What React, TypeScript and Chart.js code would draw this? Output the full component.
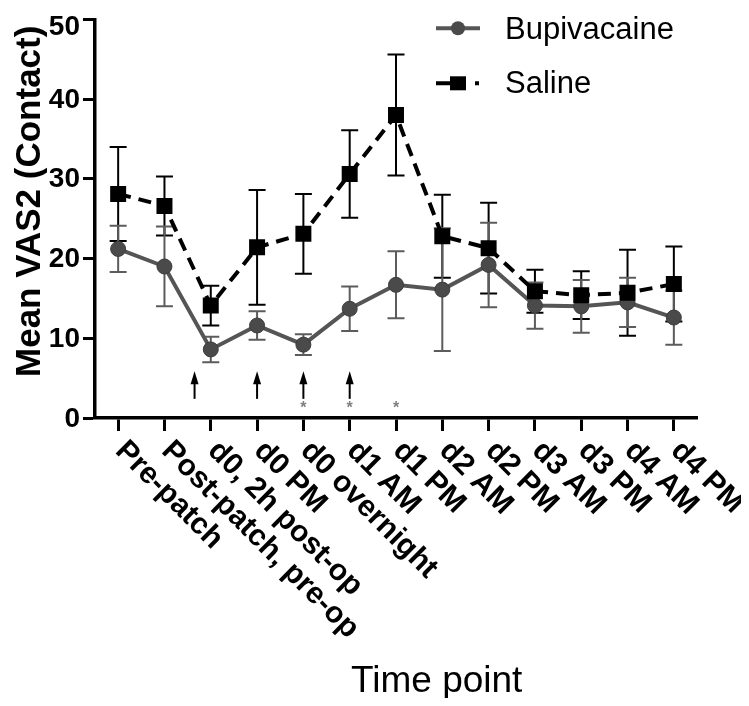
import { useEffect, useRef } from 'react';
import { Chart, registerables } from 'chart.js';

Chart.register(...registerables);

const categories = [
  'Pre-patch',
  'Post-patch, pre-op',
  'd0, 2h post-op',
  'd0 PM',
  'd0 overnight',
  'd1 AM',
  'd1 PM',
  'd2 AM',
  'd2 PM',
  'd3 AM',
  'd3 PM',
  'd4 AM',
  'd4 PM',
];

const bupivacaine = [21.2, 19.0, 8.6, 11.6, 9.2, 13.7, 16.7, 16.1, 19.2, 14.1, 14.0, 14.5, 12.6];
const bupivacaineErr = [2.9, 5.0, 1.6, 1.8, 1.3, 2.8, 4.2, 7.7, 5.3, 2.9, 3.3, 3.1, 3.4];
const saline = [28.1, 26.6, 14.1, 21.4, 23.1, 30.6, 38.0, 22.8, 21.3, 15.9, 15.4, 15.7, 16.8];
const salineErr = [5.9, 3.7, 2.5, 7.2, 5.0, 5.5, 7.6, 5.2, 5.7, 2.7, 3.0, 5.4, 4.7];

const yTicks = [0, 10, 20, 30, 40, 50];
const arrowPositions = [1.65, 3, 4, 5];
const arrowTop = 5.85;
const arrowBottom = 2.4;
const asteriskPositions = [4, 5, 6];
const asteriskLevel = 1.6;

const seriesNames = ['Bupivacaine', 'Saline'];
const yTitle = 'Mean VAS2 (Contact)';
const xTitle = 'Time point';

const FONT = "'Liberation Sans', Arial, Helvetica, sans-serif";
const BUPI_COLOR = '#555555';
const BUPI_POINT = '#4a4a4a';
const BUPI_ERR = '#5c5c5c';

const overlayPlugin = {
  id: 'overlay',
  beforeDatasetsDraw(chart: any) {
    const { ctx, scales } = chart;
    const x = scales.x;
    const y = scales.y;
    const drawBars = (vals: number[], errs: number[], color: string) => {
      ctx.save();
      ctx.strokeStyle = color;
      ctx.lineWidth = 2;
      vals.forEach((v, i) => {
        const px = x.getPixelForValue(i);
        const t = y.getPixelForValue(v + errs[i]);
        const b = y.getPixelForValue(v - errs[i]);
        ctx.beginPath();
        ctx.moveTo(px, t);
        ctx.lineTo(px, b);
        ctx.moveTo(px - 8.5, t);
        ctx.lineTo(px + 8.5, t);
        ctx.moveTo(px - 8.5, b);
        ctx.lineTo(px + 8.5, b);
        ctx.stroke();
      });
      ctx.restore();
    };
    drawBars(saline, salineErr, '#000');
    drawBars(bupivacaine, bupivacaineErr, BUPI_ERR);
  },
  afterDraw(chart: any) {
    const { ctx, chartArea, scales } = chart;
    const x = scales.x;
    const y = scales.y;
    ctx.save();

    // y tick labels
    ctx.font = `bold 28px ${FONT}`;
    ctx.fillStyle = '#000';
    ctx.textAlign = 'right';
    ctx.textBaseline = 'middle';
    yTicks.forEach((v) => {
      const py = Math.max(y.getPixelForValue(v), chartArea.top + 6.5);
      ctx.fillText(String(v), chartArea.left - 15, py + 1);
    });

    // x tick labels (rotated clockwise)
    ctx.font = `bold 30px ${FONT}`;
    ctx.textAlign = 'left';
    ctx.textBaseline = 'alphabetic';
    categories.forEach((c, i) => {
      const px = x.getPixelForValue(i);
      ctx.save();
      ctx.translate(px - 4, chartArea.bottom + 34);
      ctx.rotate(Math.PI / 4);
      ctx.fillText(c, 0, 0);
      ctx.restore();
    });

    // y title
    ctx.save();
    ctx.translate(chartArea.left - 55, chartArea.top + 182);
    ctx.rotate(-Math.PI / 2);
    ctx.textAlign = 'center';
    ctx.textBaseline = 'alphabetic';
    ctx.font = `bold 35px ${FONT}`;
    ctx.fillText(yTitle, 0, 0);
    ctx.restore();

    // x title
    ctx.font = `37px ${FONT}`;
    ctx.textAlign = 'left';
    ctx.textBaseline = 'alphabetic';
    ctx.fillText(xTitle, chartArea.left + 256, chartArea.bottom + 274);

    // arrows
    ctx.strokeStyle = '#000';
    ctx.fillStyle = '#000';
    ctx.lineWidth = 2;
    arrowPositions.forEach((p) => {
      const px = x.getPixelForValue(p);
      const t = y.getPixelForValue(arrowTop);
      const b = y.getPixelForValue(arrowBottom);
      ctx.beginPath();
      ctx.moveTo(px, t + 8);
      ctx.lineTo(px, b);
      ctx.stroke();
      ctx.beginPath();
      ctx.moveTo(px, t);
      ctx.lineTo(px - 4, t + 13);
      ctx.lineTo(px + 4, t + 13);
      ctx.closePath();
      ctx.fill();
    });

    // asterisks
    ctx.fillStyle = '#808080';
    ctx.font = `bold 16px ${FONT}`;
    ctx.textAlign = 'center';
    ctx.textBaseline = 'middle';
    asteriskPositions.forEach((p) => {
      const px = x.getPixelForValue(p);
      const py = y.getPixelForValue(asteriskLevel);
      ctx.fillText('*', px, py + 3);
    });

    // legend
    const lx = chartArea.right - 261;
    const ly1 = chartArea.top + 9;
    const ly2 = chartArea.top + 64;
    ctx.lineWidth = 4;
    ctx.strokeStyle = BUPI_COLOR;
    ctx.beginPath();
    ctx.moveTo(lx, ly1);
    ctx.lineTo(lx + 44, ly1);
    ctx.stroke();
    ctx.fillStyle = BUPI_POINT;
    ctx.beginPath();
    ctx.arc(lx + 22, ly1, 7, 0, Math.PI * 2);
    ctx.fill();

    ctx.strokeStyle = '#000';
    ctx.beginPath();
    ctx.moveTo(lx, ly2);
    ctx.lineTo(lx + 14, ly2);
    ctx.moveTo(lx + 39, ly2);
    ctx.lineTo(lx + 43, ly2);
    ctx.stroke();
    ctx.fillStyle = '#000';
    ctx.fillRect(lx + 14, ly2 - 7, 16, 14);

    ctx.font = `31px ${FONT}`;
    ctx.fillStyle = '#000';
    ctx.textAlign = 'left';
    ctx.textBaseline = 'alphabetic';
    ctx.fillText(seriesNames[0], lx + 69, ly1 + 11);
    ctx.fillText(seriesNames[1], lx + 69, ly2 + 10);

    ctx.restore();
  },
};

export default function App() {
  const canvasRef = useRef<HTMLCanvasElement | null>(null);

  useEffect(() => {
    const canvas = canvasRef.current;
    if (!canvas) return;
    const chart = new Chart(canvas, {
      type: 'line',
      data: {
        labels: categories,
        datasets: [
          {
            label: seriesNames[1],
            data: saline,
            order: 0,
            borderColor: '#000',
            backgroundColor: '#000',
            borderWidth: 4,
            borderDash: [13, 8],
            pointStyle: 'rect',
            pointRadius: 11.3,
            pointBackgroundColor: '#000',
            pointBorderColor: '#000',
            pointBorderWidth: 0,
            tension: 0,
          },
          {
            label: seriesNames[0],
            data: bupivacaine,
            order: 1,
            borderColor: BUPI_COLOR,
            backgroundColor: BUPI_POINT,
            borderWidth: 4,
            pointStyle: 'circle',
            pointRadius: 7.5,
            pointBackgroundColor: BUPI_POINT,
            pointBorderColor: '#3c3c3c',
            pointBorderWidth: 1,
            tension: 0,
          },
        ],
      },
      options: {
        animation: false,
        responsive: false,
        layout: { padding: { top: 8, right: 44, left: 0, bottom: 0 } },
        plugins: {
          legend: { display: false },
          tooltip: { enabled: false },
          title: { display: false },
        },
        scales: {
          x: {
            type: 'category',
            offset: true,
            grid: {
              drawOnChartArea: false,
              drawTicks: true,
              tickLength: 13,
              tickWidth: 3,
              tickColor: '#000',
              offset: false,
            },
            border: { display: true, color: '#000', width: 3.5 },
            ticks: { display: false },
            afterFit(s: any) {
              s.height = 280;
              s.paddingLeft = 0;
              s.paddingRight = 0;
            },
          },
          y: {
            min: 0,
            max: 50,
            ticks: { stepSize: 10, display: false },
            grid: {
              drawOnChartArea: false,
              drawTicks: true,
              tickLength: 12,
              tickWidth: 3,
              tickColor: '#000',
            },
            border: { display: true, color: '#000', width: 3.5 },
            afterFit(s: any) {
              s.width = 87;
              s.paddingTop = 0;
              s.paddingBottom = 0;
            },
          },
        },
      },
      plugins: [overlayPlugin],
    } as any);
    return () => chart.destroy();
  }, []);

  return (
    <div style={{ width: 733, height: 690 }}>
      <canvas ref={canvasRef} width={733} height={690} style={{ display: 'block' }} />
    </div>
  );
}
